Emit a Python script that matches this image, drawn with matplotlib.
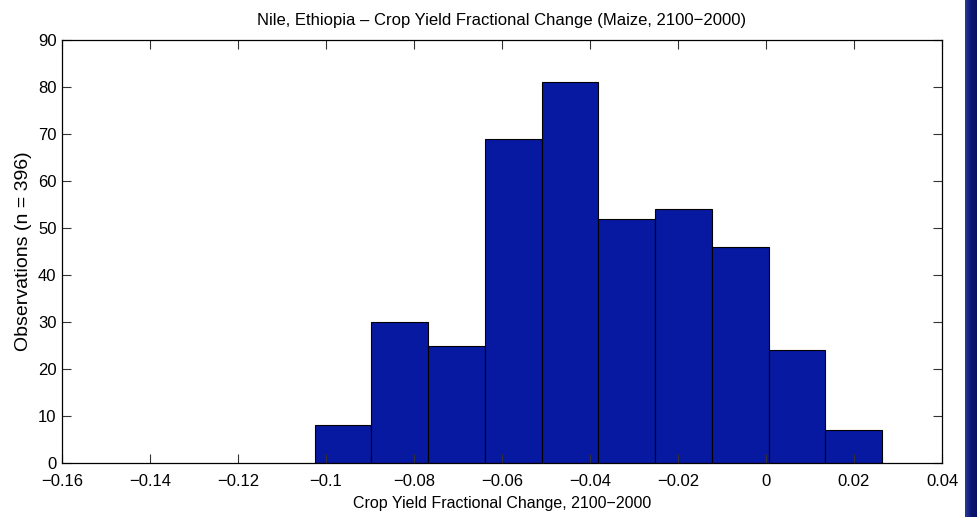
"""
Nile, Ethiopia - crop yield fractional change histogram (MATLAB style)
"""
import matplotlib
matplotlib.use('Agg')
import matplotlib.pyplot as plt
import numpy as np
from matplotlib.ticker import FuncFormatter

plt.rcParams['font.family'] = ['Liberation Sans', 'DejaVu Sans']

# 数据: 直方图分箱边界与计数
bin_edges = [-0.1026, -0.0897, -0.0768, -0.0639, -0.0510, -0.0381,
             -0.0252, -0.0123, 0.0006, 0.0135, 0.0264]
counts = [8, 30, 25, 69, 81, 52, 54, 46, 24, 7]
x_ticks = [-0.16, -0.14, -0.12, -0.1, -0.08, -0.06, -0.04, -0.02, 0, 0.02, 0.04]
y_ticks = [0, 10, 20, 30, 40, 50, 60, 70, 80, 90]

fig = plt.figure(figsize=(9.78, 5.17), dpi=100)
ax = fig.add_axes([0.0634, 0.1044, 0.8998, 0.8182])

lefts = np.array(bin_edges[:-1])
widths = np.diff(bin_edges)
ax.bar(lefts, counts, width=widths, align='edge', color='#0619A0',
       edgecolor='black', linewidth=0.8)

ax.set_xlim(-0.16, 0.04)
ax.set_ylim(0, 90)
ax.set_xticks(x_ticks)
ax.set_yticks(y_ticks)


def fmt(v, pos):
    s = '%g' % round(v, 4)
    return s.replace('-', '\u2212')


ax.xaxis.set_major_formatter(FuncFormatter(fmt))
ax.tick_params(direction='in', top=True, right=True, length=6.5,
               width=0.8, color='#333333', labelsize=12)
ax.tick_params(axis='x', pad=8)
ax.tick_params(axis='y', pad=4)
for sp in ax.spines.values():
    sp.set_linewidth(0.9)

ax.set_title('Nile, Ethiopia \u2013 Crop Yield Fractional Change (Maize, 2100\u22122000)',
             fontsize=12, pad=11)
ax.set_xlabel('Crop Yield Fractional Change, 2100\u22122000', fontsize=11.5, labelpad=5)
ax.set_ylabel('Observations (n = 396)', fontsize=14, labelpad=4)

# 右侧深蓝色渐变条
bar_ax = fig.add_axes([965 / 978, 0, 13 / 978, 1])
grad = np.linspace(0, 1, 50).reshape(1, -1)
cmap = matplotlib.colors.LinearSegmentedColormap.from_list('stripe', ['#2a3a9a', '#0a1470', '#061060'])
bar_ax.imshow(grad, aspect='auto', cmap=cmap, extent=[0, 1, 0, 1])
bar_ax.axis('off')

plt.savefig('out.png', dpi=100)
plt.close()
